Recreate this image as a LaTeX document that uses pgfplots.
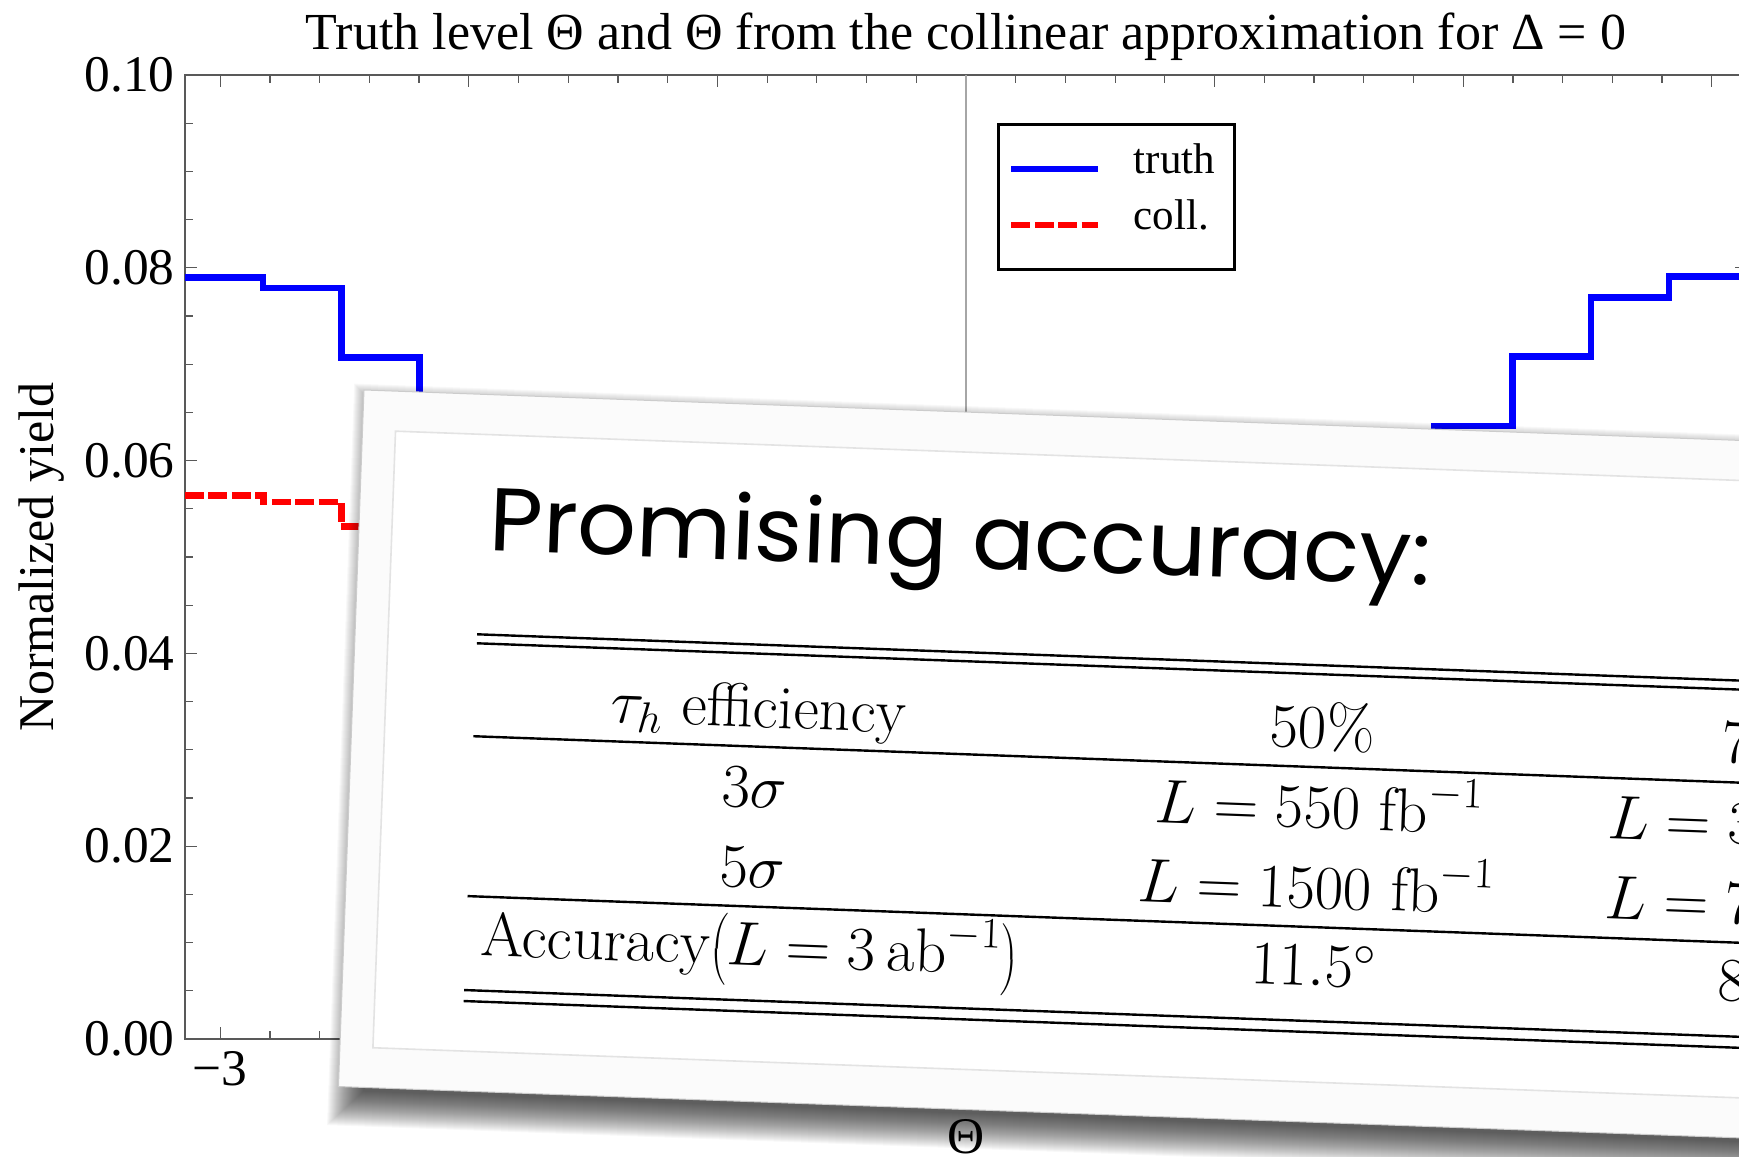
\RequirePackage{fix-cm}
\documentclass[border=0pt]{standalone}
\usepackage[no-math]{fontspec}
\setmainfont{Liberation Serif}
\newfontfamily\lmfont{Latin Modern Roman}
\newfontfamily\handfont{Poppins}
\usepackage{pgfplots}
\pgfplotsset{compat=1.18}

\definecolor{framegray}{gray}{0.35}

\begin{document}
\begin{tikzpicture}[x=0.5pt,y=0.5pt]
\useasboundingbox (0,0) rectangle (1739,1156);
\clip (0,0) rectangle (1739,1156);

\begin{axis}[
  at={(92.5pt,58.5pt)}, anchor=south west,
  scale only axis, width=781pt, height=482pt,
  xmin=-3.14159, xmax=3.14159, ymin=0, ymax=0.1,
  xtick={-3,-2,-1,0,1,2,3},
  xticklabels={−3,−2,−1,0,1,2,3},
  minor x tick num=4,
  ytick={0,0.02,0.04,0.06,0.08,0.1},
  minor y tick num=3,
  /pgf/number format/assume math mode=true,
  y tick label style={/pgf/number format/fixed,
    /pgf/number format/fixed zerofill,
    /pgf/number format/precision=2, xshift=-5pt},
  x tick label style={yshift=-6pt},
  tick label style={font=\fontsize{25.7}{30}\selectfont, inner sep=0pt},
  tick align=inside,
  major tick length=6pt, minor tick length=4pt,
  axis line style={framegray, line width=0.75pt},
  tick style={framegray, line width=0.6pt},
  legend cell align=left,
  legend style={at={(axis cs:0.125,0.095)}, anchor=north west,
    draw=black, line width=1.5pt, fill=white,
    font=\fontsize{21.5}{26}\selectfont,
    inner xsep=5pt, inner ysep=9.75pt, row sep=3pt, column sep=16.3pt,
    nodes={inner sep=0pt, text height=14.7pt, text depth=10.3pt,
      text width=45.5pt}},
  legend image code/.code={\draw[#1, line width=2.85pt] (0pt,0pt) -- (43.5pt,0pt);},
]
% vertical axis line at Theta = 0
\draw[gray!70, line width=0.6pt] (axis cs:0,0) -- (axis cs:0,0.1);

% truth-level histogram, 20 bins of width pi/10
\addplot[const plot, blue, line width=3.3pt] coordinates {
  (-3.14159,0.0790) (-2.82743,0.0779) (-2.51327,0.0707) (-2.19911,0.0636)
  (-1.88496,0.0550) (-1.57080,0.0450) (-1.25664,0.0360) (-0.94248,0.0280)
  (-0.62832,0.0220) (-0.31416,0.0200) (0.00000,0.0200) (0.31416,0.0220)
  (0.62832,0.0280) (0.94248,0.0360) (1.25664,0.0450) (1.57080,0.0550)
  (1.88496,0.0636) (2.19911,0.0708) (2.51327,0.0769) (2.82743,0.0791)
  (3.14159,0.0791)};
\addlegendentry{truth}

% collinear-approximation histogram
\addplot[const plot, red, line width=3.4pt, dash pattern=on 9.5pt off 2.2pt] coordinates {
  (-3.14159,0.0564) (-2.82743,0.0557) (-2.51327,0.0532) (-2.19911,0.0500)
  (-1.88496,0.0480) (-1.57080,0.0460) (-1.25664,0.0440) (-0.94248,0.0430)
  (-0.62832,0.0420) (-0.31416,0.0410) (0.00000,0.0410) (0.31416,0.0420)
  (0.62832,0.0430) (0.94248,0.0440) (1.25664,0.0460) (1.57080,0.0480)
  (1.88496,0.0500) (2.19911,0.0532) (2.51327,0.0557) (2.82743,0.0564)
  (3.14159,0.0564)};
\addlegendentry{coll.}
\end{axis}

% title and axis labels
\node[anchor=base, font=\fontsize{26}{31}\selectfont] at (966,1106)
  {Truth level Θ and Θ from the collinear approximation for Δ = 0};
\node[anchor=base, rotate=90, font=\fontsize{25}{30}\selectfont] at (53,599)
  {Normalized yield};
\node[font=\fontsize{25.7}{30}\selectfont] at (966,19) {Θ};

% tilted summary card
\begin{scope}[shift={(364,766)}, rotate=-2.1, transform shape]
  % soft shadow, built up from stacked translucent layers
  \foreach \r in {1,...,36} {
    \fill[black, opacity=0.028] (26-\r,-30+\r) rectangle (1760+\r,-700-\r);
  }
  % card body and inner frame
  \fill[gray!3] (0,0) rectangle (1745,-697);
  \draw[gray!40, line width=0.5pt] (0,0) rectangle (1745,-697);
  \fill[white] (33,-40) rectangle (1712,-657);
  \draw[gray!22, line width=0.8pt] (33,-40) rectangle (1712,-657);

  \node[anchor=base west, inner sep=0pt] at (130,-156)
    {\resizebox*{471pt}{46pt}{\handfont Promising accuracy:}};

  % table rules
  \begin{scope}[line width=1.2pt]
    \draw (122,-240) -- (1700,-240);
    \draw (122,-249) -- (1700,-249);
    \draw (122,-342) -- (1700,-342);
    \draw (122,-502) -- (1700,-502);
    \draw (122,-596) -- (1700,-596);
    \draw (122,-607) -- (1700,-607);
  \end{scope}

  % table cells
  \begin{scope}[every node/.style={anchor=base, inner sep=0pt,
      font=\lmfont\fontsize{31}{37}\selectfont}]
    \node at (406,-323) {$\tau_h$ efficiency};
    \node at (405,-403) {$3\sigma$};
    \node at (406,-483) {$5\sigma$};
    \node at (406,-561) {Accuracy$\left(L=3\,\mathrm{ab}^{-1}\right)$};
    \node at (970,-323) {50\%};
    \node at (970,-403) {$L=550~\mathrm{fb}^{-1}$};
    \node at (970,-483) {$L=1500~\mathrm{fb}^{-1}$};
    \node at (970,-561) {$11.5^\circ$};
    \node at (1423,-323) {70\%};
    \node at (1423,-403) {$L=300~\mathrm{fb}^{-1}$};
    \node at (1423,-483) {$L=750~\mathrm{fb}^{-1}$};
    \node at (1423,-561) {$8.5^\circ$};
  \end{scope}
\end{scope}
\end{tikzpicture}
\end{document}
